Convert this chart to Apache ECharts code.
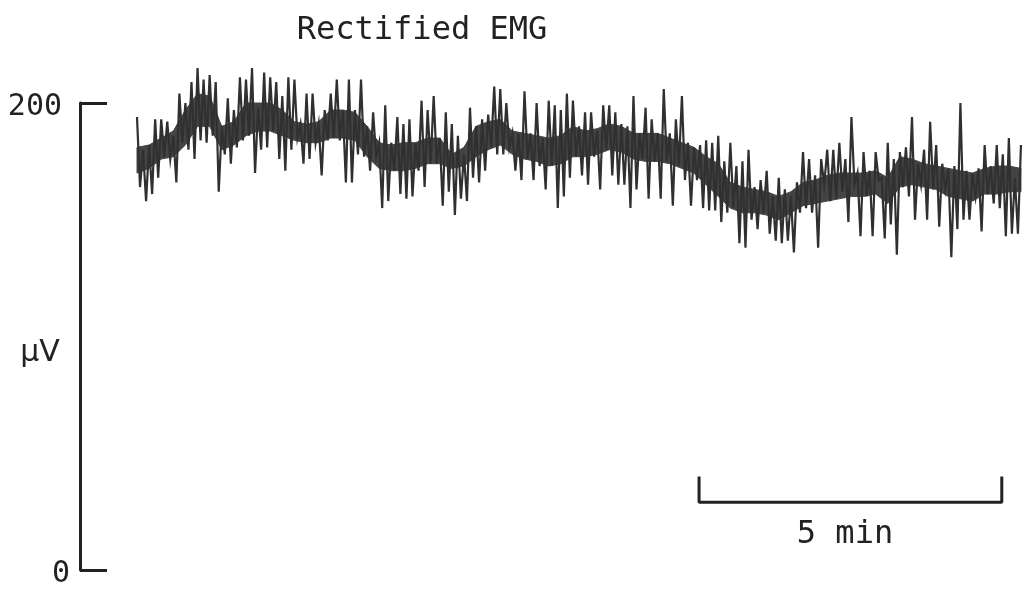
<!DOCTYPE html>
<html>
<head>
<meta charset="utf-8">
<script src="https://cdn.jsdelivr.net/npm/echarts@6/dist/echarts.min.js"></script>
<style>
  html, body { margin: 0; padding: 0; background: #ffffff; }
  #chart { width: 1034px; height: 596px; }
</style>
</head>
<body>
<div id="chart"></div>
<script>
// Rectified EMG recording, amplitude in µV against time in seconds.
const TITLE = 'Rectified EMG';
const Y_TICKS = [0, 200];
const Y_UNIT = 'µV';

// Trace samples, one every SAMPLE_STEP_S seconds (alternating peak / trough).
const SAMPLE_STEP_S = 3;
const EMG_TRACE = [
  194,164,180,158,182,161,193,168,193,177,
  192,176,186,166,204,183,200,180,209,176,
  215,184,210,183,212,186,209,162,190,178,
  202,174,197,181,211,184,210,186,215,170,
  198,180,213,181,211,188,209,176,203,171,
  211,180,210,185,191,174,204,176,204,183,
  191,169,197,184,204,185,210,184,197,166,
  210,166,197,178,210,177,190,171,196,177,
  183,155,199,158,183,171,194,161,191,159,
  193,160,183,171,201,164,197,174,203,174,
  185,156,196,162,191,152,186,159,178,158,
  198,168,190,166,193,171,195,181,207,178,
  206,178,200,181,187,171,187,167,205,176,
  187,167,200,173,185,163,201,173,199,155,
  197,160,204,168,201,177,190,169,196,165,
  196,177,188,163,199,180,199,169,196,165,
  191,165,190,155,203,163,187,176,198,159,
  193,175,187,159,206,175,187,156,193,173,
  203,167,183,156,181,167,182,155,184,154,
  183,154,186,149,175,153,183,155,173,140,
  175,138,180,150,164,146,167,153,171,144,
  160,141,168,140,163,141,160,136,166,153,
  179,155,176,153,169,138,176,165,180,158,
  180,159,183,162,176,149,194,165,170,143,
  179,160,171,143,179,167,168,142,183,148,
  176,135,179,164,181,160,194,150,174,165,
  180,150,192,163,182,147,174,163,172,134,
  173,146,200,150,171,150,170,160,172,145,
  182,161,173,157,182,155,178,143,185,144,
  168,144,182
];

// Dense core of the signal: lower and upper edge every CORE_STEP_S seconds.
const CORE_STEP_S = 12;
const CORE_LOW = [
  170,172,176,177,182,190,190,180,182,186,
  188,188,186,184,183,183,185,185,184,177,
  172,171,171,172,174,174,172,173,177,180,
  182,178,176,175,173,174,177,177,178,180,
  179,176,175,175,174,172,170,165,160,155,
  153,153,152,150,153,156,157,158,159,160,
  160,161,157,164,165,164,163,160,159,158,
  161,161,162,162
];
const CORE_HIGH = [
  181,182,185,188,197,204,203,190,192,200,
  200,200,197,192,191,192,197,197,196,190,
  183,182,183,183,185,185,178,181,190,192,
  193,188,187,186,185,186,190,188,189,191,
  190,187,187,187,185,183,181,177,174,166,
  164,163,162,160,162,166,167,169,170,170,
  170,171,168,177,176,174,173,172,171,170,
  172,173,173,172
];

// Time scale bar: 5 min.
const SCALE_BAR_START_S = 557;
const SCALE_BAR_LENGTH_S = 300;
const SCALE_BAR_LABEL = '5 min';
const SCALE_BAR_LEVEL = 29;
const SCALE_BAR_END_LEVEL = 40;

const X_MAX_S = 880;
const INK = '#222222';
const TRACE = '#303030';
const CORE = '#444444';
const MONO = "'DejaVu Sans Mono', 'Liberation Mono', monospace";

const traceData = EMG_TRACE.map((v, i) => [i * SAMPLE_STEP_S, v]);
const coreData = CORE_LOW.map((v, i) => [i * CORE_STEP_S, v, CORE_HIGH[i]]);
const scaleEnd = SCALE_BAR_START_S + SCALE_BAR_LENGTH_S;
const scaleBar = [
  [SCALE_BAR_START_S, SCALE_BAR_END_LEVEL],
  [SCALE_BAR_START_S, SCALE_BAR_LEVEL],
  [scaleEnd, SCALE_BAR_LEVEL],
  [scaleEnd, SCALE_BAR_END_LEVEL]
];

// The core band is one closed polygon: upper edge left to right, lower edge back.
function renderCore(params, api) {
  if (params.dataIndex !== 0) return null;
  const upper = coreData.map(d => api.coord([d[0], d[2]]));
  const lower = coreData.slice().reverse().map(d => api.coord([d[0], d[1]]));
  return {
    type: 'polygon',
    shape: { points: upper.concat(lower) },
    style: { fill: CORE, stroke: CORE, lineWidth: 1 }
  };
}

const chart = echarts.init(document.getElementById('chart'), null, { renderer: 'canvas' });

const plain = { showSymbol: false, symbol: 'none', clip: false, silent: true };

chart.setOption({
  animation: false,
  backgroundColor: '#ffffff',
  grid: { left: 137, right: 9, top: 103, bottom: 26, containLabel: false },
  xAxis: {
    type: 'value', min: 0, max: X_MAX_S, show: false
  },
  yAxis: {
    type: 'value',
    min: Y_TICKS[0],
    max: Y_TICKS[Y_TICKS.length - 1],
    interval: Y_TICKS[1] - Y_TICKS[0],
    position: 'left',
    offset: 57,
    axisLine: { show: true, onZero: false, lineStyle: { color: INK, width: 3 } },
    axisTick: { show: true, inside: true, length: 27, lineStyle: { color: INK, width: 3 } },
    splitLine: { show: false },
    axisLabel: {
      margin: 10,
      color: INK,
      fontFamily: MONO,
      fontSize: 30,
      formatter: v => (v === Y_TICKS[Y_TICKS.length - 1] ? '{hi|' + v + '}' : '{lo|' + v + '}'),
      rich: {
        hi: { fontFamily: MONO, fontSize: 30, color: INK, padding: [9, 8, 0, 0] },
        lo: { fontFamily: MONO, fontSize: 30, color: INK, padding: [9, 0, 0, 0] }
      }
    }
  },
  series: [
    {
      type: 'custom', name: 'core', data: coreData, z: 1,
      silent: true, clip: false, renderItem: renderCore
    },
    Object.assign({
      type: 'line', name: 'EMG', data: traceData, z: 3,
      lineStyle: { color: TRACE, width: 2.2, join: 'miter' }
    }, plain),
    Object.assign({
      type: 'line', name: 'scale', data: scaleBar, z: 4,
      lineStyle: { color: INK, width: 3 }
    }, plain)
  ],
  graphic: [
    {
      type: 'text', x: 422, y: 31, z: 10,
      style: { text: TITLE, font: '32px ' + MONO, fill: INK, align: 'center', verticalAlign: 'middle' }
    },
    {
      type: 'text', x: 40, y: 353, z: 10,
      style: { text: Y_UNIT, font: "30px 'DejaVu Sans', sans-serif", fill: INK, align: 'center', verticalAlign: 'middle' }
    },
    {
      type: 'text', x: 845, y: 535, z: 10,
      style: { text: SCALE_BAR_LABEL, font: '32px ' + MONO, fill: INK, align: 'center', verticalAlign: 'middle' }
    }
  ]
});
</script>
</body>
</html>
